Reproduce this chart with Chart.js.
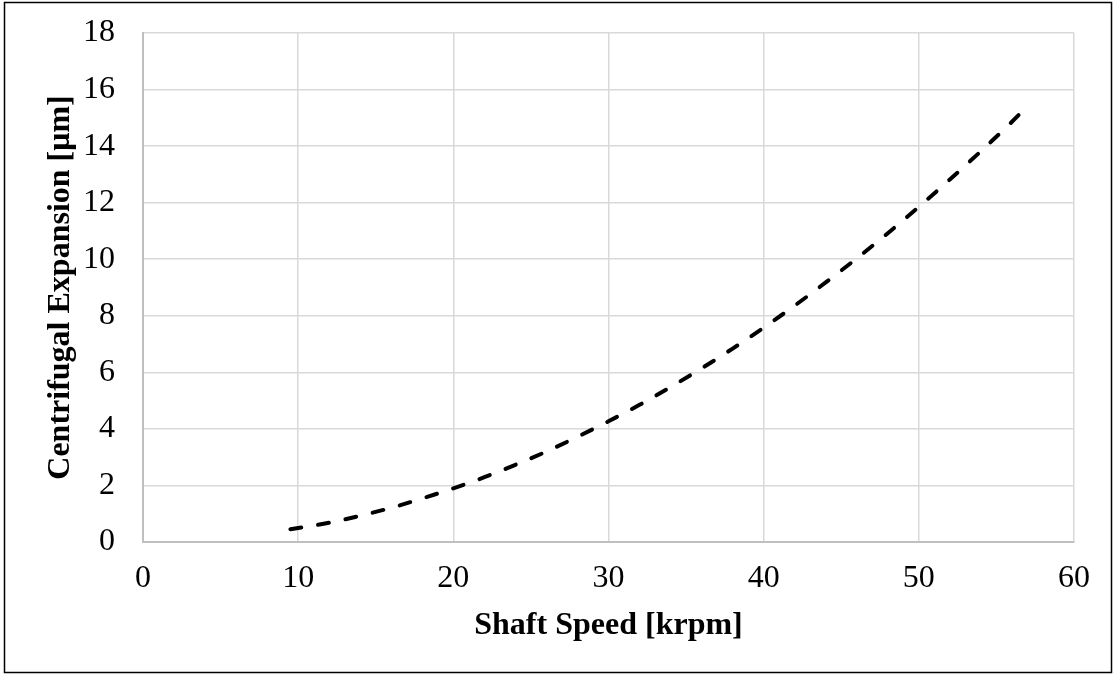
<!DOCTYPE html>
<html>
<head>
<meta charset="utf-8">
<script src="https://cdn.jsdelivr.net/npm/chart.js@4"></script>
<style>
  html, body { margin: 0; padding: 0; background: #fff; }
  #wrap { position: absolute; left: 0; top: 0; width: 1115px; height: 675px; }
</style>
</head>
<body>
<div id="wrap"><canvas id="chart" width="1115" height="675"></canvas></div>
<script>
// Data
const shaftSpeed = [9.5, 12, 14, 16, 18, 20, 22, 24, 26, 28, 30, 32, 34, 36, 38, 40, 42, 44, 46, 48, 50, 52, 54, 56, 56.8]
const expansion = [0.45, 0.68, 0.93, 1.21, 1.54, 1.90, 2.29, 2.73, 3.20, 3.72, 4.27, 4.85, 5.48, 6.14, 6.84, 7.58, 8.36, 9.18, 10.03, 10.92, 11.85, 12.82, 13.82, 14.86, 15.3]
const xTitle = "Shaft Speed [krpm]"
const yTitle = "Centrifugal Expansion [μm]"

const font = "'Liberation Serif', 'Times New Roman', serif"

// outer frame round the whole picture
const framePlugin = {
  id: "frame",
  afterDraw(chart) {
    const ctx = chart.ctx
    ctx.save()
    ctx.strokeStyle = "#000"
    ctx.lineWidth = 1.5
    ctx.strokeRect(4.5, 2.5, 1107, 670)
    ctx.restore()
  }
}

new Chart(document.getElementById("chart"), {
  type: "scatter",
  data: {
    datasets: [{
      data: shaftSpeed.map((x, i) => ({ x, y: expansion[i] })),
      showLine: true,
      borderColor: "#000",
      borderWidth: 4,
      borderDash: [11, 17],
      borderCapStyle: "round",
      pointRadius: 0,
      cubicInterpolationMode: "monotone",
      fill: false
    }]
  },
  options: {
    responsive: false,
    animation: false,
    layout: { padding: { top: 33, right: 41, left: 42, bottom: 30 } },
    plugins: { legend: { display: false }, tooltip: { enabled: false } },
    scales: {
      x: {
        type: "linear",
        min: 0, max: 60,
        afterFit: s => { s.height = 103 },
        ticks: { stepSize: 10, color: "#000", font: { family: font, size: 32 }, padding: 17 },
        grid: { color: "#d9d9d9", lineWidth: 1.5, drawTicks: false },
        border: { color: "#bfbfbf", width: 2 },
        title: { display: true, text: xTitle, color: "#000", font: { family: font, size: 32, weight: "bold" }, padding: { top: 0, bottom: 0 } }
      },
      y: {
        min: 0, max: 18,
        afterFit: s => { s.width = 101; s.paddingTop = 0; s.paddingBottom = 0 },
        ticks: { stepSize: 2, color: "#000", font: { family: font, size: 32 }, padding: 28 },
        grid: { color: "#d9d9d9", lineWidth: 1.5, drawTicks: false },
        border: { color: "#bfbfbf", width: 2 },
        title: { display: true, text: yTitle, color: "#000", font: { family: font, size: 32, weight: "bold" }, padding: { top: 0, bottom: 0 } }
      }
    }
  },
  plugins: [framePlugin]
})
</script>
</body>
</html>
